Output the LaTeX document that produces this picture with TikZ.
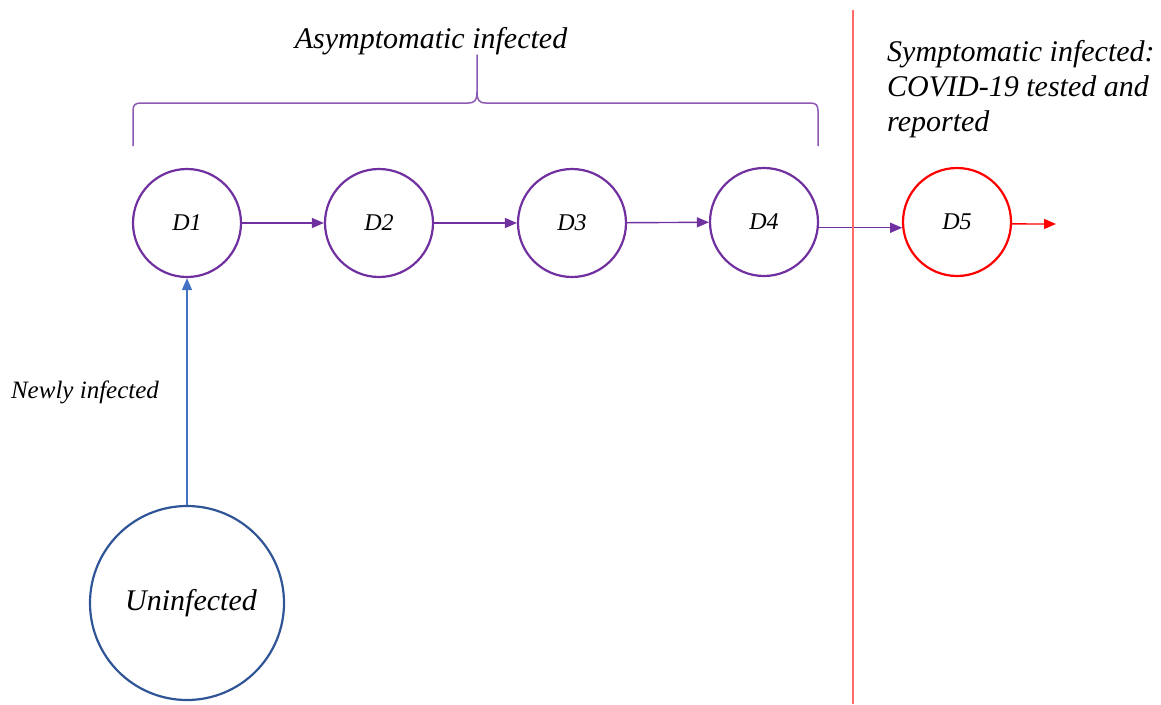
\documentclass[tikz,border=0pt]{standalone}
\usepackage{fontspec}
\setmainfont{Liberation Serif}
\usetikzlibrary{arrows.meta}
\definecolor{cpurple}{HTML}{7030A0}
\definecolor{cred}{HTML}{FF0000}
\definecolor{clred}{HTML}{FF6B6B}
\definecolor{cblue}{HTML}{4472C4}
\definecolor{cdblue}{HTML}{2F5597}
\tikzset{
  daybox/.style={circle, draw=cpurple, line width=2.2pt, minimum size=108pt, inner sep=0pt, font=\fontsize{24}{28}\selectfont\itshape},
  flow/.style={draw=cpurple, line width=1.4pt, -{Triangle[length=12pt,width=10pt]}},
  lbl/.style={font=\fontsize{30}{35}\selectfont\itshape, inner sep=0pt},
}
\begin{document}
\begin{tikzpicture}[x=1pt, y=-1pt]
\useasboundingbox (0,0) rectangle (1161,704);
\node[daybox] (d1) at (187,223) {D1};
\node[daybox] (d2) at (379,223) {D2};
\node[daybox] (d3) at (572,223) {D3};
\node[daybox] (d4) at (764,222) {D4};
\node[daybox, draw=cred] (d5) at (957,222) {D5};
\node[circle, draw=cdblue, line width=2.2pt, minimum size=194pt, inner sep=0pt, font=\fontsize{30}{34}\selectfont\itshape] (un) at (187,603) {\hspace*{8pt}Uninfected};
\coordinate (out) at (1056,224);
\draw[flow] (d1) -- (d2);
\draw[flow] (d2) -- (d3);
\draw[flow] (d3) -- (d4);
\draw[flow] (d4.-6) -- (d5.186);
\draw[line width=1.4pt, draw=cred, -{Triangle[length=12pt,width=10pt]}] (d5.-2) -- (out);
\draw[line width=1.4pt, draw=cblue, -{Triangle[length=12pt,width=10pt]}] (un) -- (d1);
\node[font=\fontsize{25}{30}\selectfont\itshape, inner sep=0pt] (newly) at (85,392) {Newly infected};
% red separator
\coordinate (sepT) at (853,10);
\coordinate (sepB) at (853,704);
\draw[draw=clred, line width=1.6pt] (sepT) -- (sepB);
% brace
\coordinate (bl) at (133,146);
\coordinate (br) at (818,146);
\coordinate (bt) at (477,55);
\draw[draw=cpurple!80, line width=1.5pt, line join=round]
  (bl) -- (133,111) .. controls (133,105) and (135,103) .. (141,103)
  -- (468,103) .. controls (475,103) and (477,100) .. (477,92) -- (bt)
  -- (477,92) .. controls (477,100) and (479,103) .. (486,103)
  -- (810,103) .. controls (816,103) and (818,105) .. (818,111) -- (br);
\node[lbl] (asym) at (431,41) {Asymptomatic infected};
\node[lbl, align=left, anchor=west] (sym) at (887,89) {Symptomatic infected:\\COVID-19 tested and\\reported};
\end{tikzpicture}
\end{document}
